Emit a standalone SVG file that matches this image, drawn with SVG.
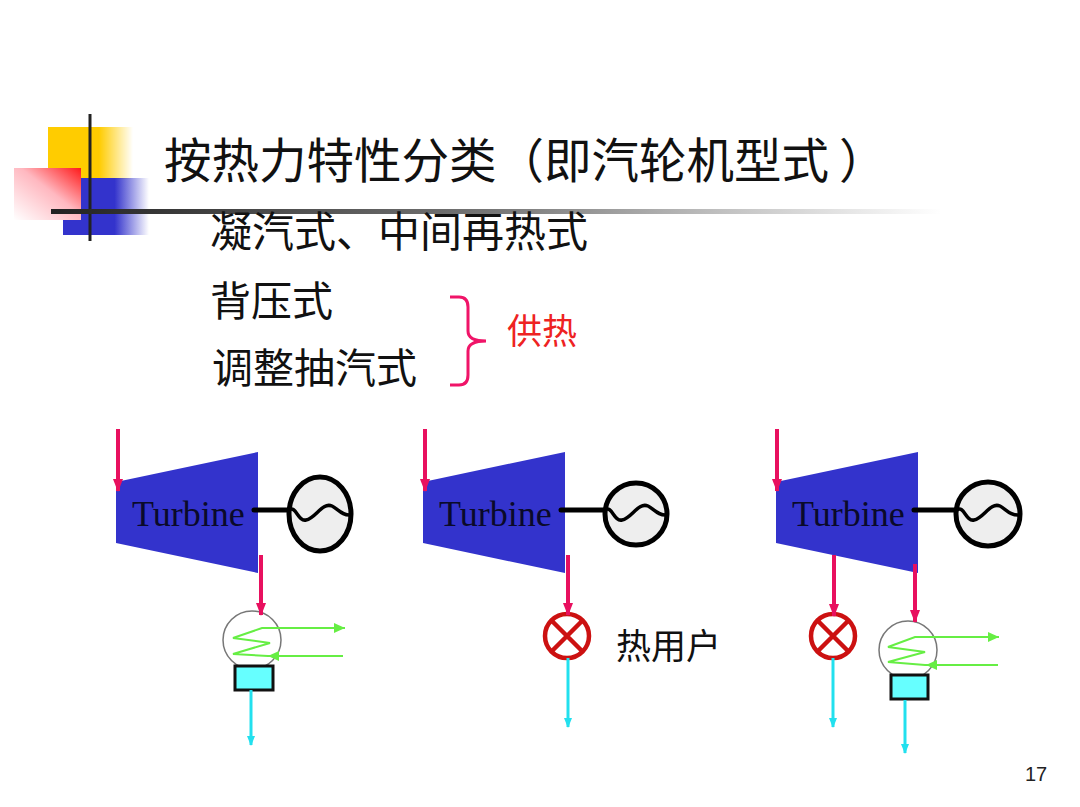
<svg xmlns="http://www.w3.org/2000/svg" width="1080" height="807" viewBox="0 0 1080 807">
<style>
.cjk{font-family:"Noto Sans CJK SC","Noto Sans",sans-serif;fill:#111;text-spacing-trim:space-all}
.tb{font-family:"Liberation Serif",serif;font-size:36px;fill:#0a0a2a}
.stm{stroke:#e8105f;stroke-width:4;fill:none}
.cw{stroke:#66ee44;stroke-width:2;fill:none}
.wtr{stroke:#22e0ee;stroke-width:3;fill:none}
.gen{fill:#eeeeee;stroke:#000;stroke-width:5}
.wave{fill:none;stroke:#000;stroke-width:3.5}
.shaft{stroke:#000;stroke-width:5;stroke-linecap:round}
.turb{fill:#3333cc}
.cond{fill:none;stroke:#777;stroke-width:1.5}
.hot{fill:#66ffff;stroke:#111;stroke-width:3}
.valve{fill:#fff;stroke:#cc1111;stroke-width:4.5}
.vx{stroke:#cc1111;stroke-width:4.5}
</style>
<defs>
<linearGradient id="gy"><stop offset="0" stop-color="#ffcc00"/><stop offset="0.6" stop-color="#ffcc00"/><stop offset="1" stop-color="#ffcc00" stop-opacity="0"/></linearGradient>
<linearGradient id="gb"><stop offset="0" stop-color="#3333cc"/><stop offset="0.6" stop-color="#3333cc"/><stop offset="1" stop-color="#3333cc" stop-opacity="0"/></linearGradient>
<linearGradient id="gr" x1="1" y1="0" x2="0" y2="1"><stop offset="0" stop-color="#ff1a1a"/><stop offset="0.45" stop-color="#ffb8c0"/><stop offset="1" stop-color="#ffffff"/></linearGradient>
<linearGradient id="gl"><stop offset="0" stop-color="#222"/><stop offset="0.5" stop-color="#777"/><stop offset="1" stop-color="#888" stop-opacity="0"/></linearGradient>
<marker id="as" markerWidth="10" markerHeight="13" refX="5" refY="12" markerUnits="userSpaceOnUse"><path d="M0 0L10 0L5 13Z" fill="#e8105f"/></marker>
<marker id="aw" markerWidth="8" markerHeight="10" refX="4" refY="9" markerUnits="userSpaceOnUse"><path d="M0 0L8 0L4 10Z" fill="#22e0ee"/></marker>
</defs>

<g id="logo">
<rect x="48" y="127" width="85" height="52" fill="url(#gy)"/>
<rect x="63" y="178" width="86" height="57" fill="url(#gb)"/>
<rect x="14" y="168" width="67" height="52" fill="url(#gr)"/>
<path d="M90 114V241" stroke="#222" stroke-width="3"/>
<rect x="51" y="209" width="890" height="5" fill="url(#gl)"/>
</g>

<g id="headings">
<text class="cjk" x="164" y="178" font-size="47.5">按热力特性分类（即汽轮机型式<tspan dx="10">）</tspan></text>
<text class="cjk" x="210" y="247" font-size="42">凝汽式、中间再热式</text>
<text class="cjk" x="210" y="316" font-size="41">背压式</text>
<text class="cjk" x="212" y="383" font-size="41">调整抽汽式</text>
</g>

<g id="brace">
<path d="M450 297H459Q468 297 468 307V331Q468 341 486 341Q468 341 468 351V375Q468 385 459 385H450" fill="none" stroke="#f01468" stroke-width="3"/>
<text class="cjk" x="507" y="344" font-size="35" style="fill:#ee2222">供热</text>
</g>

<g id="turbine1">
<path class="turb" d="M116 482L258 452V573L116 543Z"/>
<text class="tb" x="132" y="526">Turbine</text>
<path class="shaft" d="M254 510H288"/>
<ellipse class="gen" cx="320" cy="514" rx="31" ry="37"/>
<path class="wave" d="M289 510C296 505 298 522 306 520C316 518 322 502 332 506C338 509 342 516 351 515"/>
</g>
<g id="turbine2">
<path class="turb" d="M423 482L565 452V573L423 543Z"/>
<text class="tb" x="439" y="526">Turbine</text>
<path class="shaft" d="M561 510H604"/>
<circle class="gen" cx="636" cy="514" r="31"/>
<path class="wave" d="M605 510C612 505 614 522 622 520C632 518 638 502 648 506C654 509 658 516 667 515"/>
</g>
<g id="turbine3">
<path class="turb" d="M776 482L918 452V573L776 543Z"/>
<text class="tb" x="792" y="526">Turbine</text>
<path class="shaft" d="M914 510H957"/>
<circle class="gen" cx="988" cy="514" r="32"/>
<path class="wave" d="M957 510C964 505 966 522 974 520C984 518 990 502 1000 506C1006 509 1010 516 1020 515"/>
</g>

<g id="condenser1">
<circle class="cond" cx="252" cy="640" r="29"/>
<path class="cw" d="M345 628H262L233 638L270 643L233 654L268 656H343"/>
<path d="M345 628L334 623V633Z" fill="#66ee44"/>
<path d="M268 656L279 651V661Z" fill="#66ee44"/>
<rect class="hot" x="235" y="666" width="38" height="24"/>
</g>
<g id="valve1">
<circle class="valve" cx="567" cy="636" r="22"/>
<path class="vx" d="M552 621L582 651M582 621L552 651"/>
<text class="cjk" x="616" y="659" font-size="35">热用户</text>
</g>
<g id="valve2">
<circle class="valve" cx="833" cy="636" r="22"/>
<path class="vx" d="M818 621L848 651M848 621L818 651"/>
</g>
<g id="condenser2">
<circle class="cond" cx="908" cy="650" r="29"/>
<path class="cw" d="M999 637H915L888 647L925 652L888 662L925 665H998"/>
<path d="M999 637L988 632V642Z" fill="#66ee44"/>
<path d="M926 665L937 660V670Z" fill="#66ee44"/>
<rect class="hot" x="891" y="675" width="37" height="24"/>
</g>

<g id="connectors">
<path class="stm" d="M118 429V491" marker-end="url(#as)"/>
<path class="stm" d="M425 429V491" marker-end="url(#as)"/>
<path class="stm" d="M777 429V491" marker-end="url(#as)"/>
<path class="stm" d="M261 555V615" marker-end="url(#as)"/>
<path class="stm" d="M568 555V615" marker-end="url(#as)"/>
<path class="stm" d="M834 555V616" marker-end="url(#as)"/>
<path class="stm" d="M915 564V622" marker-end="url(#as)"/>
<path class="wtr" d="M251 690V745" marker-end="url(#aw)"/>
<path class="wtr" d="M568 658V727" marker-end="url(#aw)"/>
<path class="wtr" d="M833 658V727" marker-end="url(#aw)"/>
<path class="wtr" d="M905 700V753" marker-end="url(#aw)"/>
</g>

<g id="page">
<text x="1025" y="781" font-family="'Liberation Sans',sans-serif" font-size="20" fill="#222">17</text>
</g>
</svg>
